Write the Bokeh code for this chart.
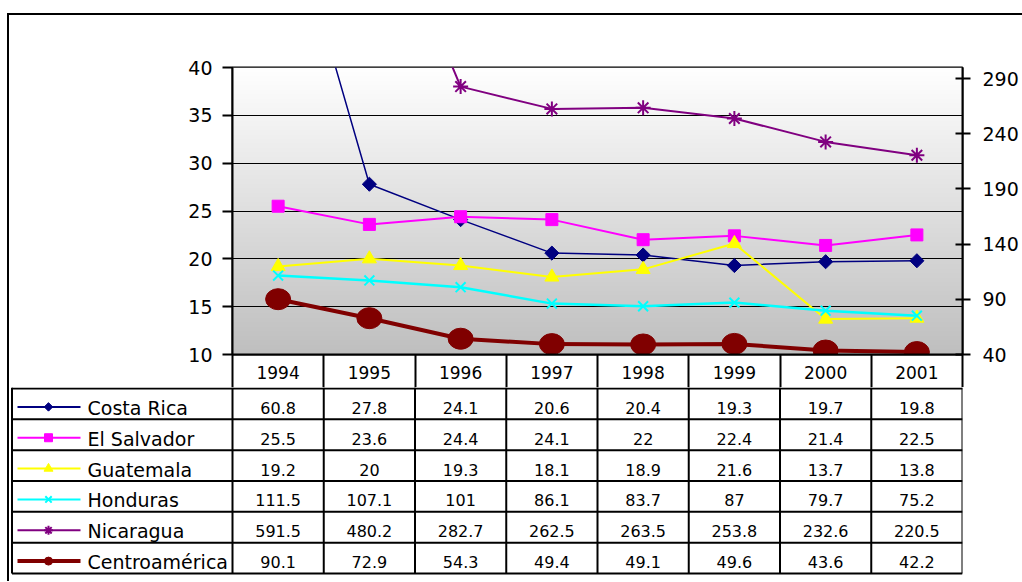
import numpy as np
from bokeh.plotting import figure
from bokeh.models import Range1d, LinearAxis, FixedTicker, Label
from bokeh.layouts import column
from bokeh.embed import file_html
from bokeh.resources import INLINE
from bokeh.core.properties import value

# ---------------- data ----------------
years = ["1994", "1995", "1996", "1997", "1998", "1999", "2000", "2001"]
costa_rica = [60.8, 27.8, 24.1, 20.6, 20.4, 19.3, 19.7, 19.8]
el_salvador = [25.5, 23.6, 24.4, 24.1, 22, 22.4, 21.4, 22.5]
guatemala = [19.2, 20, 19.3, 18.1, 18.9, 21.6, 13.7, 13.8]
honduras = [111.5, 107.1, 101, 86.1, 83.7, 87, 79.7, 75.2]
nicaragua = [591.5, 480.2, 282.7, 262.5, 263.5, 253.8, 232.6, 220.5]
centroamerica = [90.1, 72.9, 54.3, 49.4, 49.1, 49.6, 43.6, 42.2]
series_names = ["Costa Rica", "El Salvador", "Guatemala", "Honduras", "Nicaragua", "Centroamérica"]
left_ticks = [10, 15, 20, 25, 30, 35, 40]
right_ticks = [40, 90, 140, 190, 240, 290]
title_main = "Deuda Pública Externa/PIB"
title_unit = "(%)"

series_values = [costa_rica, el_salvador, guatemala, honduras, nicaragua, centroamerica]

# ---------------- styles ----------------
FONT = "DejaVu Sans"
colors = ["#000080", "#FF00FF", "#FFFF00", "#00FFFF", "#800080", "#800000"]
markers = ["square", "square", "triangle", "x", "asterisk", "circle"]
angles = [np.pi / 4, 0, 0, 0, 0, 0]
msizes = [10, 12, 14, 14, 15, 23]
lwidths = [1.5, 2, 2, 2.5, 2, 4]
on_right = [False, False, False, True, True, True]
key_sizes = [6, 8, 9, 9, 9, 8]

# ---------------- geometry (page px) ----------------
X0, Y0 = 9, 15            # top-left of figures on page
W = 1013
FL, FR, FT, FB = 232, 962, 67, 354
HDR_B = 387               # bottom of header row (chart figure ends here)
ROW_H = 31.0
col_w = (FR - FL) / 8.0
n = len(years)
xc = [i + 0.5 for i in range(n)]

# ---------------- chart figure ----------------
p = figure(width=W, height=HDR_B - Y0,
           x_range=Range1d(0, n), y_range=Range1d(left_ticks[0], left_ticks[-1]),
           output_backend="svg", toolbar_location=None, frame_align=False,
           min_border_left=FL - X0, min_border_right=X0 + W - FR,
           min_border_top=FT - Y0, min_border_bottom=HDR_B - FB)
p.extra_y_ranges = {"right": Range1d(40, 300)}
p.background_fill_color = "white"
p.border_fill_color = "white"
p.outline_line_color = "black"
p.outline_line_width = 2
p.xgrid.visible = False
p.ygrid.ticker = FixedTicker(ticks=left_ticks)
p.ygrid.grid_line_color = "black"
p.ygrid.grid_line_width = 1

# gradient background of plot area (style only)
H = FB - FT
g = np.linspace(191, 255, H).astype(np.uint8)
img = np.zeros((H, 1), dtype=np.uint32)
v = img.view(dtype=np.uint8).reshape((H, 1, 4))
v[:, 0, 0] = g
v[:, 0, 1] = g
v[:, 0, 2] = g
v[:, 0, 3] = 255
p.image_rgba(image=[img], x=0, y=left_ticks[0], dw=n, dh=left_ticks[-1] - left_ticks[0], level="image")

# left axis
ya = p.yaxis[0]
ya.ticker = FixedTicker(ticks=left_ticks)
ya.axis_line_width = 2
ya.major_tick_line_width = 2
ya.major_tick_in = 0
ya.major_tick_out = 10
ya.minor_tick_line_color = None
ya.major_label_standoff = 10
ya.major_label_text_font = FONT
ya.major_label_text_font_size = "19px"
ya.major_label_text_color = "black"

# right axis
ra = LinearAxis(y_range_name="right", ticker=FixedTicker(ticks=right_ticks))
ra.axis_line_width = 2
ra.major_tick_line_width = 2
ra.major_tick_in = 7
ra.major_tick_out = 8
ra.minor_tick_line_color = None
ra.major_label_standoff = 12
ra.major_label_text_font = FONT
ra.major_label_text_font_size = "19px"
ra.major_label_text_color = "black"
p.add_layout(ra, "right")

# bottom axis = header row of the data table (years + column separators)
hdr = HDR_B - FB
xa = p.xaxis[0]
xa.ticker = FixedTicker(ticks=xc, minor_ticks=list(range(n + 1)))
xa.major_label_overrides = {xc[i]: years[i] for i in range(n)}
xa.axis_line_width = 2
xa.major_tick_line_color = None
xa.major_tick_in = 0
xa.major_tick_out = 0
xa.minor_tick_line_color = "black"
xa.minor_tick_line_width = 2
xa.minor_tick_in = 0
xa.minor_tick_out = hdr
xa.major_label_standoff = -22
xa.major_label_text_font = FONT
xa.major_label_text_font_size = "17px"
xa.major_label_text_color = "black"

# series
for vals, c, m, a, ms, lw, r in zip(series_values, colors, markers, angles, msizes, lwidths, on_right):
    kw = {"y_range_name": "right"} if r else {}
    p.line(xc, vals, line_color=c, line_width=lw, **kw)
    if m == "circle":
        p.ellipse(x=xc, y=vals, width=25, height=21, width_units="screen", height_units="screen",
                  fill_color=c, line_color=c, **kw)
    elif m in ("x", "asterisk"):
        p.scatter(xc, vals, marker=m, size=ms, line_color=c, line_width=2, **kw)
    else:
        p.scatter(xc, vals, marker=m, size=ms, angle=a, fill_color=c, line_color=c, **kw)

# title
p.add_layout(Label(x=(265 - FL) / col_w, y=40 + (FT - 49.5) / H * 30, text=title_main,
                   text_font=FONT, text_font_style="bold", text_font_size="30px",
                   text_align="left", text_baseline="alphabetic", text_color="black"))
p.add_layout(Label(x=(748 - FL) / col_w, y=40 + (FT - 50) / H * 30, text=title_unit,
                   text_font=FONT, text_font_style="bold", text_font_size="20px",
                   text_align="left", text_baseline="alphabetic", text_color="black"))

# ---------------- data table figure ----------------
H2 = 581 - HDR_B
nrows = len(series_names)
y_top = -1.0 / ROW_H
y_bot = nrows + (581 - (HDR_B + nrows * ROW_H)) / ROW_H
x_start = -(FL - X0) / col_w
t = figure(width=W, height=H2, x_range=Range1d(x_start, n),
           y_range=Range1d(y_bot, y_top),
           output_backend="svg", toolbar_location=None, frame_align=False,
           x_axis_location=None, y_axis_location=None,
           min_border_left=0, min_border_right=X0 + W - FR, min_border_top=0, min_border_bottom=0)
t.grid.visible = False
t.outline_line_color = None
t.background_fill_color = "white"
t.border_fill_color = "white"

def px2x(px):
    return (px - FL) / col_w

tab_left = px2x(11.5)
t.segment(x0=[tab_left] * (nrows + 1), y0=list(range(nrows + 1)),
          x1=[n] * (nrows + 1), y1=list(range(nrows + 1)), line_color="black", line_width=2)
vx = [tab_left] + list(range(n + 1))
t.segment(x0=vx, y0=[y_top] * len(vx), x1=vx, y1=[nrows] * len(vx), line_color="black", line_width=2)

off_txt = 4.0 / ROW_H
off_key = 3.0 / ROW_H
for i, (name, vals, c, m, a, ks) in enumerate(zip(series_names, series_values, colors, markers, angles, key_sizes)):
    yk = i + 0.5 + off_key
    t.line([px2x(17), px2x(80)], [yk, yk], line_color=c, line_width=4 if m == "circle" else 2)
    if m in ("x", "asterisk"):
        t.scatter([px2x(48)], [yk], marker=m, size=ks, line_color=c, line_width=2)
    else:
        t.scatter([px2x(48)], [yk], marker=m, size=ks, angle=a, fill_color=c, line_color=c)
    t.text([px2x(87)], [i + 0.5 + off_txt], text=[name], text_font=value(FONT), text_font_size="19px",
           text_align="left", text_baseline="middle", text_color="black")
    t.text(xc, [i + 0.5 + off_txt] * n, text=[f"{vv:g}" for vv in vals], text_font=value(FONT),
           text_font_size="16px", text_align="center", text_baseline="middle", text_color="black")

layout = column(p, t, margin=(13, 0, 0, 7),
                styles={"border-left": "2px solid black", "border-top": "2px solid black"})

open("out.html", "w").write(file_html(layout, INLINE))
